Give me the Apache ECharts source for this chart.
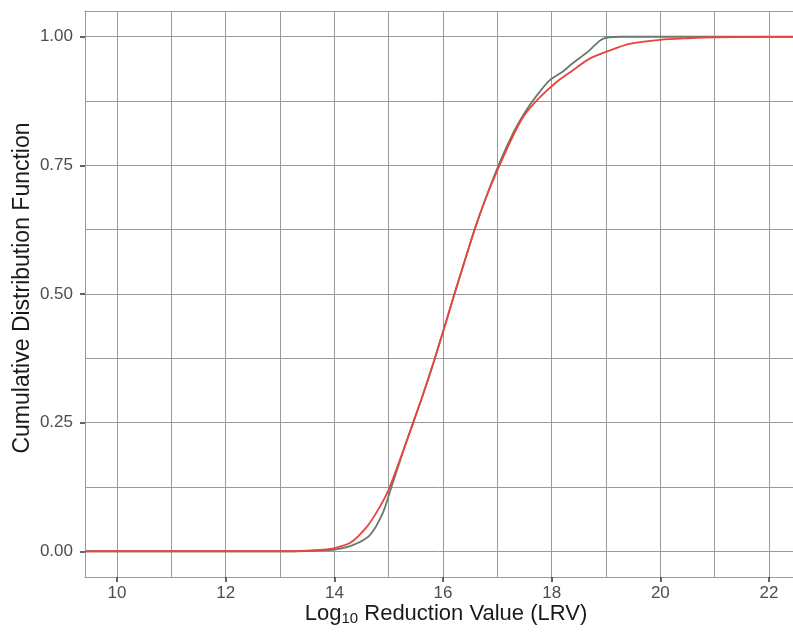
<!DOCTYPE html>
<html><head><meta charset="utf-8">
<script src="https://cdn.jsdelivr.net/npm/echarts@6/dist/echarts.min.js"></script>
<style>html,body{margin:0;padding:0;background:#fff}#c{width:793px;height:632px}</style>
</head><body><div id="c"></div>
<script>
// Data
const greyX = [9.41, 12, 13, 13.5, 13.8, 14.0, 14.34, 14.65, 14.89, 15.05, 15.3, 15.6, 15.85, 16.21, 16.58, 16.8, 17.04, 17.3, 17.5, 17.72, 17.96, 18.2, 18.38, 18.69, 18.88, 19.0, 19.3, 20, 23.03];
const greyY = [0, 0, 0, 0.0005, 0.002, 0.003, 0.012, 0.031, 0.074, 0.125, 0.205, 0.295, 0.375, 0.5, 0.625, 0.69, 0.755, 0.815, 0.852, 0.885, 0.915, 0.932, 0.948, 0.973, 0.992, 0.998, 1, 1, 1];
const redX = [9.41, 12, 13, 13.5, 13.8, 14.0, 14.3, 14.6, 14.8, 15.0, 15.3, 15.6, 15.85, 16.21, 16.58, 16.8, 17.04, 17.3, 17.5, 17.78, 18.09, 18.38, 18.69, 19.06, 19.43, 20.0, 20.5, 21, 23.03];
const redY = [0, 0, 0, 0.001, 0.003, 0.006, 0.017, 0.048, 0.08, 0.12, 0.205, 0.295, 0.375, 0.5, 0.625, 0.69, 0.75, 0.81, 0.848, 0.882, 0.912, 0.934, 0.957, 0.973, 0.986, 0.994, 0.997, 0.999, 1];
const xMajor = [10, 12, 14, 16, 18, 20, 22];
const xMinor = [11, 13, 15, 17, 19, 21, 23];
const yMajor = [0, 0.25, 0.5, 0.75, 1];
const yMinor = [0.125, 0.375, 0.625, 0.875];
const xTitle = 'Log{sub|10} Reduction Value (LRV)';
const yTitle = 'Cumulative Distribution Function';

const gridCol = '#9a9a9a';
const font = 'Liberation Sans, Arial, sans-serif';
const chart = echarts.init(document.getElementById('c'), null, {renderer: 'canvas'});
const zip = (a, b) => a.map((v, i) => [v, b[i]]);
chart.setOption({
  animation: false,
  backgroundColor: '#fff',
  grid: {left: 85, top: 11, right: -32, bottom: 55, containLabel: false, outerBoundsMode: 'none'},
  graphic: [{
    type: 'text', x: 446, y: 614, z: 10,
    style: {text: xTitle, fontFamily: font, fontSize: 22, fill: '#1a1a1a', align: 'center', verticalAlign: 'middle',
      rich: {sub: {fontFamily: font, fontSize: 15, fill: '#1a1a1a', verticalAlign: 'bottom', padding: [10, 0, 0, 0]}}}
  }, {
    type: 'text', x: 23, y: 288, rotation: Math.PI / 2, z: 10,
    style: {text: yTitle, fontFamily: font, fontSize: 23, fill: '#1a1a1a', align: 'center', verticalAlign: 'middle'}
  }],
  xAxis: [{
    type: 'value', min: 9.41, max: 23.03, position: 'bottom',
    axisLine: {show: true, onZero: false, lineStyle: {color: gridCol, width: 1}},
    axisTick: {show: true, length: 5, customValues: xMajor, lineStyle: {color: '#333', width: 1.5}},
    axisLabel: {customValues: xMajor, margin: 8, fontFamily: font, fontSize: 17, color: '#4d4d4d'},
    splitLine: {show: true, lineStyle: {color: gridCol, width: 1}}
  }, {
    type: 'value', min: 9.41, max: 23.03, position: 'top',
    axisLine: {show: true, onZero: false, lineStyle: {color: gridCol, width: 1}},
    axisTick: {show: false, customValues: xMinor},
    axisLabel: {show: false, customValues: xMinor},
    splitLine: {show: true, lineStyle: {color: gridCol, width: 1}}
  }],
  yAxis: [{
    type: 'value', min: -0.05, max: 1.05, position: 'left',
    axisLine: {show: true, onZero: false, lineStyle: {color: gridCol, width: 1}},
    axisTick: {show: true, length: 5, customValues: yMajor, lineStyle: {color: '#333', width: 1.5}},
    axisLabel: {customValues: yMajor, margin: 12, fontFamily: font, fontSize: 17, color: '#4d4d4d',
      formatter: v => v.toFixed(2)},
    splitLine: {show: true, lineStyle: {color: gridCol, width: 1}}
  }, {
    type: 'value', min: -0.05, max: 1.05, position: 'right',
    axisLine: {show: false},
    axisTick: {show: false, customValues: yMinor},
    axisLabel: {show: false, customValues: yMinor},
    splitLine: {show: true, lineStyle: {color: gridCol, width: 1}}
  }],
  series: [{
    type: 'line', name: 'grey', data: zip(greyX, greyY), showSymbol: false, smooth: 0.25,
    lineStyle: {color: '#687a6e', width: 1.8}, z: 3
  }, {
    type: 'line', name: 'red', data: zip(redX, redY), showSymbol: false, smooth: 0.25,
    lineStyle: {color: '#e8453c', width: 1.8}, z: 4
  }]
});
</script></body></html>
